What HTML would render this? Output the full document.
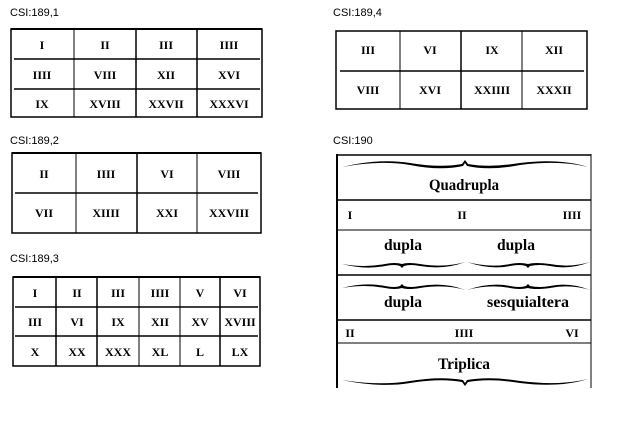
<!DOCTYPE html>
<html><head><style>body{margin:0;background:#fff}svg{display:block}</style></head><body>
<svg width="642" height="432" viewBox="0 0 642 432" xmlns="http://www.w3.org/2000/svg">
<g font-family="Liberation Sans, sans-serif" font-size="11" fill="#000">
<text x="10" y="16">CSI:189,1</text>
<text x="10" y="144">CSI:189,2</text>
<text x="10" y="262">CSI:189,3</text>
<text x="333" y="16">CSI:189,4</text>
<text x="333" y="144">CSI:190</text>
</g>
<g stroke="#000" fill="none">
<rect x="11" y="29" width="251" height="88" stroke-width="1.5"/>
<line x1="11" y1="29" x2="262" y2="29" stroke-width="2"/>
<line x1="74" y1="29" x2="74" y2="117"/><line x1="136" y1="29" x2="136" y2="117" stroke-width="1.5"/><line x1="197" y1="29" x2="197" y2="117" stroke-width="1.5"/>
<line x1="14" y1="59" x2="260" y2="59" stroke-width="1.5"/><line x1="14" y1="89" x2="260" y2="89" stroke-width="1.5"/>
<rect x="12" y="153" width="249" height="80" stroke-width="1.5"/>
<line x1="12" y1="153" x2="261" y2="153" stroke-width="2"/>
<line x1="76" y1="153" x2="76" y2="233"/><line x1="137" y1="153" x2="137" y2="233" stroke-width="1.5"/><line x1="197" y1="153" x2="197" y2="233"/>
<line x1="15" y1="193" x2="258" y2="193" stroke-width="1.5"/>
<rect x="13" y="277" width="247" height="89" stroke-width="1.5"/>
<line x1="13" y1="277" x2="260" y2="277" stroke-width="2"/>
<line x1="56" y1="277" x2="56" y2="366" stroke-width="1.5"/><line x1="97" y1="277" x2="97" y2="366" stroke-width="1.5"/><line x1="139" y1="277" x2="139" y2="366"/><line x1="180" y1="277" x2="180" y2="366"/><line x1="220" y1="277" x2="220" y2="366" stroke-width="1.5"/>
<line x1="15" y1="307" x2="258" y2="307" stroke-width="1.5"/><line x1="15" y1="336" x2="258" y2="336" stroke-width="1.5"/>
<rect x="336" y="31" width="251" height="78" stroke-width="1.5"/>
<line x1="400" y1="31" x2="400" y2="109"/><line x1="461" y1="31" x2="461" y2="109" stroke-width="1.5"/><line x1="522" y1="31" x2="522" y2="109"/>
<line x1="340" y1="71" x2="584" y2="71" stroke-width="1.5"/>
<line x1="337" y1="154" x2="337" y2="388" stroke-width="2"/>
<line x1="591" y1="154" x2="591" y2="388"/>
<line x1="337" y1="155" x2="591" y2="155" stroke-width="1.5"/>
<line x1="337" y1="200" x2="591" y2="200" stroke-width="1.5"/>
<line x1="337" y1="230" x2="591" y2="230"/>
<line x1="337" y1="275" x2="591" y2="275" stroke-width="1.5"/>
<line x1="337" y1="320" x2="591" y2="320" stroke-width="1.5"/>
<line x1="337" y1="343" x2="591" y2="343"/>
</g>
<g fill="#000">
<path d="M342 167 Q380 158 410 163 Q440 168 462 164 L465 160 L468 164 Q490 168 520 163 Q560 158 588 167 Q560 160 520 165 Q490 171 467 166 L465 163 L463 166 Q440 171 410 165 Q380 160 342 167Z"/>
<path d="M342 380 Q380 388 410 383 Q440 378 462 382 L465 386 L468 382 Q490 378 520 383 Q560 388 588 379 Q560 386 520 381 Q490 376 467 380 L465 383 L463 380 Q440 376 410 381 Q380 386 342 380Z"/>
<path d="M342 264 Q365 270 385 266 Q395 264 400 266 L402 268 L404 266 Q410 264 420 266 Q445 270 465 262 Q445 268 420 264 Q408 262 402 264 Q395 262 385 264 Q365 268 342 264Z"/>
<path d="M467 262 Q490 270 510 266 Q520 264 526 266 L528 268 L530 266 Q540 264 550 266 Q570 270 590 262 Q570 268 550 264 Q535 262 528 264 Q520 262 510 264 Q490 268 467 262Z"/>
<path d="M342 288 Q365 282 385 286 Q395 288 400 286 L402 284 L404 286 Q410 288 420 286 Q445 282 465 290 Q445 284 420 288 Q408 290 402 288 Q395 290 385 288 Q365 284 342 288Z"/>
<path d="M467 290 Q490 282 510 286 Q520 288 526 286 L528 284 L530 286 Q540 288 550 286 Q570 282 590 290 Q570 284 550 288 Q535 290 528 288 Q520 290 510 288 Q490 284 467 290Z"/>
</g>
<g font-family="Liberation Serif, serif" font-weight="bold" font-size="12" text-anchor="middle" fill="#000">
<text x="42" y="49">I</text><text x="105" y="49">II</text><text x="166" y="49">III</text><text x="229" y="49">IIII</text>
<text x="42" y="79">IIII</text><text x="105" y="79">VIII</text><text x="166" y="79">XII</text><text x="229" y="79">XVI</text>
<text x="42" y="108">IX</text><text x="105" y="108">XVIII</text><text x="166" y="108">XXVII</text><text x="229" y="108">XXXVI</text>
<text x="44" y="178">II</text><text x="106" y="178">IIII</text><text x="167" y="178">VI</text><text x="229" y="178">VIII</text>
<text x="44" y="217">VII</text><text x="106" y="217">XIIII</text><text x="167" y="217">XXI</text><text x="229" y="217">XXVIII</text>
<text x="35" y="297">I</text><text x="77" y="297">II</text><text x="118" y="297">III</text><text x="160" y="297">IIII</text><text x="200" y="297">V</text><text x="240" y="297">VI</text>
<text x="35" y="326">III</text><text x="77" y="326">VI</text><text x="118" y="326">IX</text><text x="160" y="326">XII</text><text x="200" y="326">XV</text><text x="240" y="326">XVIII</text>
<text x="35" y="356">X</text><text x="77" y="356">XX</text><text x="118" y="356">XXX</text><text x="160" y="356">XL</text><text x="200" y="356">L</text><text x="240" y="356">LX</text>
<text x="368" y="54">III</text><text x="430" y="54">VI</text><text x="492" y="54">IX</text><text x="554" y="54">XII</text>
<text x="368" y="94">VIII</text><text x="430" y="94">XVI</text><text x="492" y="94">XXIIII</text><text x="554" y="94">XXXII</text>
<text x="350" y="219">I</text><text x="462" y="219">II</text><text x="572" y="219">IIII</text>
<text x="350" y="337">II</text><text x="464" y="337">IIII</text><text x="572" y="337">VI</text>
</g>
<g font-family="Liberation Serif, serif" font-size="16" text-anchor="middle" fill="#000" font-weight="bold">
<text x="464" y="190" textLength="70" lengthAdjust="spacingAndGlyphs">Quadrupla</text>
<text x="403" y="250" textLength="38" lengthAdjust="spacingAndGlyphs">dupla</text>
<text x="516" y="250" textLength="38" lengthAdjust="spacingAndGlyphs">dupla</text>
<text x="403" y="307" textLength="38" lengthAdjust="spacingAndGlyphs">dupla</text>
<text x="528" y="307" textLength="82" lengthAdjust="spacingAndGlyphs">sesquialtera</text>
<text x="464" y="369" textLength="52" lengthAdjust="spacingAndGlyphs">Triplica</text>
</g>
</svg>
</body></html>
